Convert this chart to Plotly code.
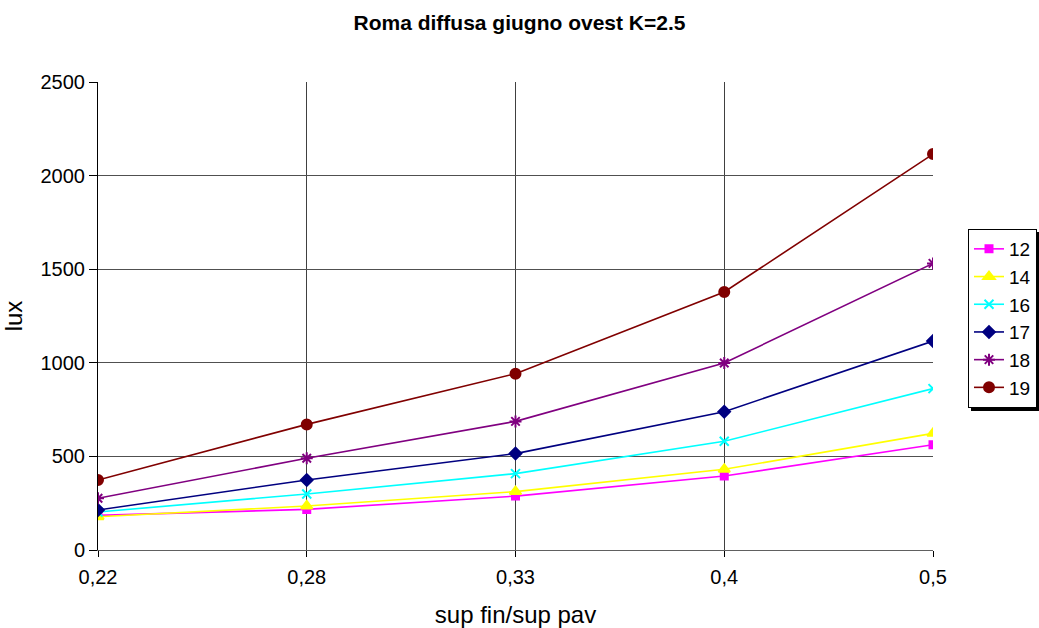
import plotly.graph_objects as go

categories = ["0,22", "0,28", "0,33", "0,4", "0,5"]
series_names = ["12", "14", "16", "17", "18", "19"]
s12 = [185, 217, 288, 395, 562]
s14 = [178, 235, 312, 431, 623]
s16 = [203, 299, 408, 581, 862]
s17 = [214, 374, 515, 739, 1116]
s18 = [276, 490, 687, 999, 1531]
s19 = [374, 671, 942, 1378, 2115]
values = [s12, s14, s16, s17, s18, s19]
colors = ["#FF00FF", "#FFFF00", "#00FFFF", "#000080", "#800080", "#800000"]
symbols = ["square", "triangle-up", "x-thin-open", "diamond", "asterisk-open", "circle"]
sizes = [7, 10, 9, 9, 10, 10]

fig = go.Figure()
for name, vals, c, sym, sz in zip(series_names, values, colors, symbols, sizes):
    fig.add_trace(go.Scatter(
        x=categories, y=vals, name=name, mode="lines+markers",
        line=dict(color=c, width=1.6),
        marker=dict(symbol=sym, size=sz, color=c, line=dict(color=c, width=2)),
    ))

W, H = 1039, 628
L, R, T, B = 98, 106, 82, 78
pw, ph = W - L - R, H - T - B

# legend shadow (paper coordinates)
lx0, lx1, ly0, ly1 = 968, 1037, 229, 408
def px_x(p):
    return (p - L) / pw
def px_y(p):
    return (H - B - p) / ph

fig.add_shape(type="rect", xref="paper", yref="paper",
              x0=px_x(lx0 + 3), x1=px_x(lx1 + 3), y0=px_y(ly1 + 3), y1=px_y(ly0 + 3),
              fillcolor="black", line=dict(width=0), layer="below")

fig.update_layout(
    width=W, height=H,
    paper_bgcolor="white", plot_bgcolor="white",
    margin=dict(l=L, r=R, t=T, b=B, autoexpand=False),
    font=dict(family="Liberation Sans, Arial, sans-serif", size=20, color="black"),
    title=dict(text="<b>Roma diffusa giugno ovest K=2.5</b>", x=0.5, xanchor="center",
               y=1 - 23 / H, yanchor="middle", font=dict(size=21)),
    xaxis=dict(type="category", range=[0, 4], showgrid=True, gridcolor="#404040", gridwidth=1,
               showline=True, linecolor="#606060", linewidth=1, ticks="outside", ticklen=6,
               tickcolor="black", title=dict(text="sup fin/sup pav", standoff=19),
               ticklabelstandoff=3, zeroline=False, automargin=False),
    yaxis=dict(range=[0, 2500], dtick=500, showgrid=True, gridcolor="#505050", gridwidth=1,
               showline=True, linecolor="black", linewidth=1, ticks="outside", ticklen=8,
               tickcolor="black", title=dict(text="lux", standoff=12),
               zeroline=False, automargin=False),
    legend=dict(x=px_x(lx0), xanchor="left", y=px_y(ly0), yanchor="top", bordercolor="black",
                borderwidth=1, bgcolor="white", font=dict(size=19), tracegroupgap=0,
                itemwidth=30, entrywidth=68, entrywidthmode="pixels"),
    showlegend=True,
)
fig.write_html("out.html", config={"displayModeBar": False},
               post_script="document.body.style.margin='0';")
